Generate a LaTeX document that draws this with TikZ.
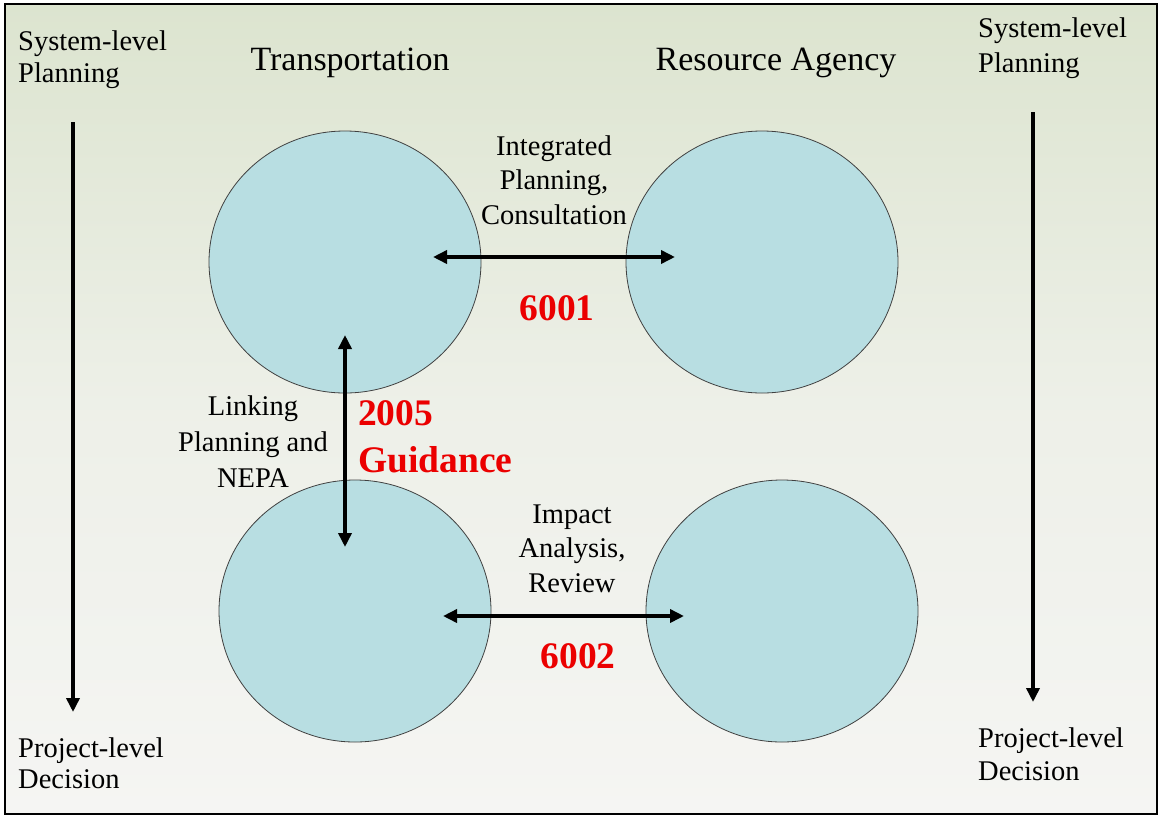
\documentclass[tikz,border=0pt]{standalone}
\usepackage{fontspec}
\setmainfont{Liberation Serif}
\usetikzlibrary{arrows.meta,shapes.geometric}
\definecolor{bubble}{RGB}{184,222,226}
\definecolor{topgreen}{RGB}{220,228,207}
\definecolor{paper}{RGB}{245,245,243}
\definecolor{lawred}{RGB}{235,0,0}

\begin{document}
\begin{tikzpicture}[x=1pt,y=-1pt,
    bubble/.style={ellipse,draw=black!75,line width=0.8pt,fill=bubble,
      minimum width=272pt,minimum height=262pt,inner sep=0pt},
    sidetext/.style={font=\fontsize{28.5}{32}\selectfont,align=left,anchor=base west,inner sep=0pt},
    linktext/.style={font=\fontsize{28.5}{34.5}\selectfont,align=center,anchor=base,inner sep=0pt},
    headtext/.style={font=\fontsize{34}{40}\selectfont,anchor=base,inner sep=0pt},
    acttext/.style={font=\bfseries\fontsize{37.5}{47}\selectfont,text=lawred,inner sep=0pt},
    flow/.style={line width=3.5pt,-{Triangle[length=14pt,width=13pt]}},
    twoway/.style={line width=3.5pt,{Triangle[length=14pt,width=13pt]}-{Triangle[length=14pt,width=13pt]}}]

    \useasboundingbox (0,0) rectangle (1161,817);
    \fill [white] (0,0) rectangle (1161,817);
    \shade [top color=topgreen,bottom color=paper,middle color=paper!70!topgreen] (5,4) rectangle (1157,814);
    \draw [line width=2pt] (5,4) rectangle (1157,814);

    \node [bubble] (tplan) at (345,262) {};
    \node [bubble] (rplan) at (762,262) {};
    \node [bubble] (tproj) at (355,611) {};
    \node [bubble] (rproj) at (782,611) {};

    \node [headtext] (transp) at (350,70) {Transportation};
    \node [headtext] (agency) at (776,70) {Resource Agency};

    % multi-line nodes: base is the last line
    \node [sidetext] (sysL) at (18,82) {System-level\\Planning};
    \node [sidetext,font=\fontsize{28.5}{35}\selectfont] (sysR) at (978,72) {System-level\\Planning};
    \node [sidetext,font=\fontsize{28.5}{31}\selectfont] (projL) at (18,788) {Project-level\\Decision};
    \node [sidetext,font=\fontsize{28.5}{33}\selectfont] (projR) at (978,780) {Project-level\\Decision};

    \coordinate (sysLtop) at (73,122);
    \coordinate (projLtip) at (73,712);
    \coordinate (sysRtop) at (1033,112);
    \coordinate (projRtip) at (1033,702);
    \draw [flow] (sysLtop) to (projLtip);
    \draw [flow] (sysRtop) to (projRtip);

    \coordinate (consA) at (433,257);
    \coordinate (consB) at (675,257);
    \coordinate (revA) at (443,616);
    \coordinate (revB) at (684,616);
    \coordinate (linkA) at (345,335);
    \coordinate (linkB) at (345,547);
    \draw [twoway] (consA) to (consB);
    \draw [twoway] (revA) to (revB);
    \draw [twoway] (linkA) to (linkB);

    \node [linktext] (consult) at (554,224) {Integrated\\Planning,\\Consultation};
    \node [linktext,font=\fontsize{28.5}{36}\selectfont] (linking) at (253,487) {Linking\\Planning and\\NEPA};
    \node [linktext] (impact) at (572,592) {Impact\\Analysis,\\Review};

    \node [acttext,anchor=base] (sec6001) at (557,320) {6001};
    \node [acttext,anchor=base] (sec6002) at (578,668) {6002};
    \node [acttext,anchor=base west,align=left] (guide) at (358,472) {2005\\Guidance};

\end{tikzpicture}
\end{document}
